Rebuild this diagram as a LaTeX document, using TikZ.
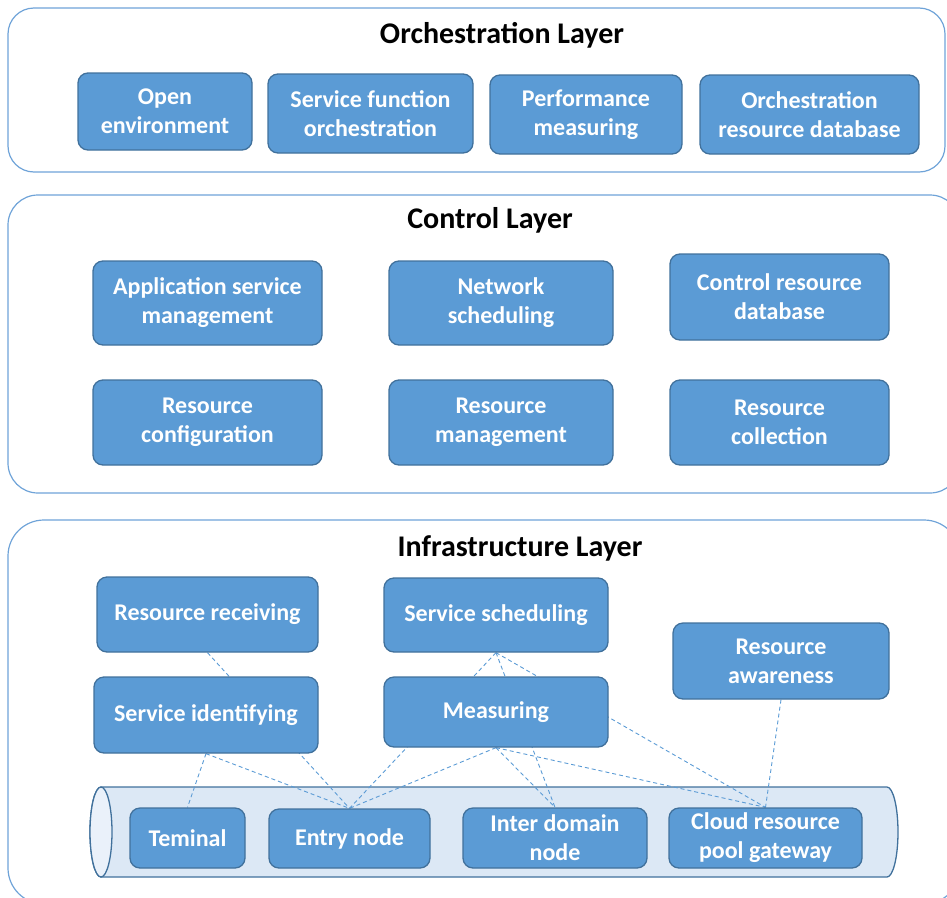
\documentclass[tikz,border=0pt]{standalone}
\usepackage{fontspec}
\setmainfont{Carlito}
\usetikzlibrary{backgrounds}

\definecolor{boxblue}{HTML}{5B9BD5}
\definecolor{boxline}{HTML}{41719C}
\definecolor{frameblue}{HTML}{6FA3D8}
\definecolor{cylfill}{HTML}{DCE8F5}
\definecolor{cylface}{HTML}{EAF1FA}

\pgfdeclarelayer{frames}
\pgfdeclarelayer{links}
\pgfsetlayers{frames,links,main}

\tikzset{unitbox/.style 2 args = {rectangle, rounded corners=10pt, draw=boxline,
                                  line width=1.3pt, fill=boxblue, text=white,
                                  minimum width=#1, minimum height=#2, inner sep=0pt,
                                  align=center, font=\bfseries\fontsize{24}{29}\selectfont},
         layerframe/.style = {draw=frameblue, line width=1.2pt, rounded corners=#1},
         layerframe/.default=28pt,
         layertitle/.style = {font=\bfseries\fontsize{30}{36}\selectfont, inner sep=0pt},
         link/.style = {draw=boxblue, line width=0.9pt, dash pattern=on 4pt off 3pt}
        }

\begin{document}
\begin{tikzpicture}[x=1pt, y=-1pt]
  \useasboundingbox (0,0) rectangle (947,897);

  \node[layertitle] (orchtitle) at (502,35) {Orchestration Layer};
  \node[unitbox={174pt}{77pt}] (open)   at (165,111.5)   {Open\\environment};
  \node[unitbox={205pt}{79pt}] (sfo)    at (370.5,113.5) {Service function\\orchestration};
  \node[unitbox={192pt}{79pt}] (perf)   at (586,114.5)   {Performance\\measuring};
  \node[unitbox={219pt}{79pt}] (orchdb) at (809.5,114.5) {Orchestration\\resource database};

  \node[layertitle] (ctrltitle) at (490,220) {Control Layer};
  \node[unitbox={229pt}{84pt}] (appsm)  at (207.5,303)   {Application service\\management};
  \node[unitbox={224pt}{84pt}] (netsch) at (501,303)     {Network\\scheduling};
  \node[unitbox={219pt}{86pt}] (ctrldb) at (779.5,297)   {Control resource\\database};
  \node[unitbox={229pt}{85pt}] (rconf)  at (207.5,422.5) {Resource\\configuration};
  \node[unitbox={224pt}{85pt}] (rmgmt)  at (501,422.5)   {Resource\\management};
  \node[unitbox={219pt}{85pt}] (rcoll)  at (779.5,422.5) {Resource\\collection};

  \node[layertitle] (infratitle) at (520,548) {Infrastructure Layer};
  \node[unitbox={221pt}{75pt}] (recv)   at (207.5,614.5) {Resource receiving};
  \node[unitbox={224pt}{74pt}] (sched)  at (496,615)     {Service scheduling};
  \node[unitbox={216pt}{76pt}] (aware)  at (781,661)     {Resource\\awareness};
  \node[unitbox={224pt}{76pt}] (ident)  at (206,715)     {Service identifying};
  \node[unitbox={224pt}{70pt}] (meas)   at (496,712)     {Measuring};
  \node[unitbox={115pt}{60pt}] (term)   at (187.5,838)   {Teminal};
  \node[unitbox={161pt}{59pt}] (entry)  at (349.5,838.5) {Entry node};
  \node[unitbox={184pt}{60pt}] (inter)  at (555,838)     {Inter domain\\node};
  \node[unitbox={193pt}{60pt}] (cloud)  at (765.5,838)   {Cloud resource\\pool gateway};

  \begin{pgfonlayer}{links}
    \draw[link] (recv.south) -- (entry.north);
    \draw[link] (ident.south) -- (term.north);
    \draw[link] (ident.south) -- (entry.north);
    \foreach \src in {sched,meas}
      \foreach \dst in {entry,inter,cloud}
        \draw[link] (\src.south) -- (\dst.north);
    \draw[link] (aware.south) -- (cloud.north);
  \end{pgfonlayer}

  \begin{pgfonlayer}{frames}
    \draw[layerframe=26pt] (8,8) rectangle (945,172);
    \draw[layerframe=30pt] (8,195) rectangle (960,493);
    \draw[layerframe=36pt] (8,520) rectangle (960,904);
    \draw[draw=boxline, line width=1.3pt, fill=cylfill]
      (101,787) -- (887,787) arc[start angle=90, end angle=-90, x radius=11pt, y radius=45pt]
      -- (101,877) arc[start angle=270, end angle=90, x radius=11pt, y radius=45pt] -- cycle;
    \draw[draw=boxline, line width=1.3pt, fill=cylface] (101,832) ellipse [x radius=11pt, y radius=45pt];
  \end{pgfonlayer}
\end{tikzpicture}
\end{document}
